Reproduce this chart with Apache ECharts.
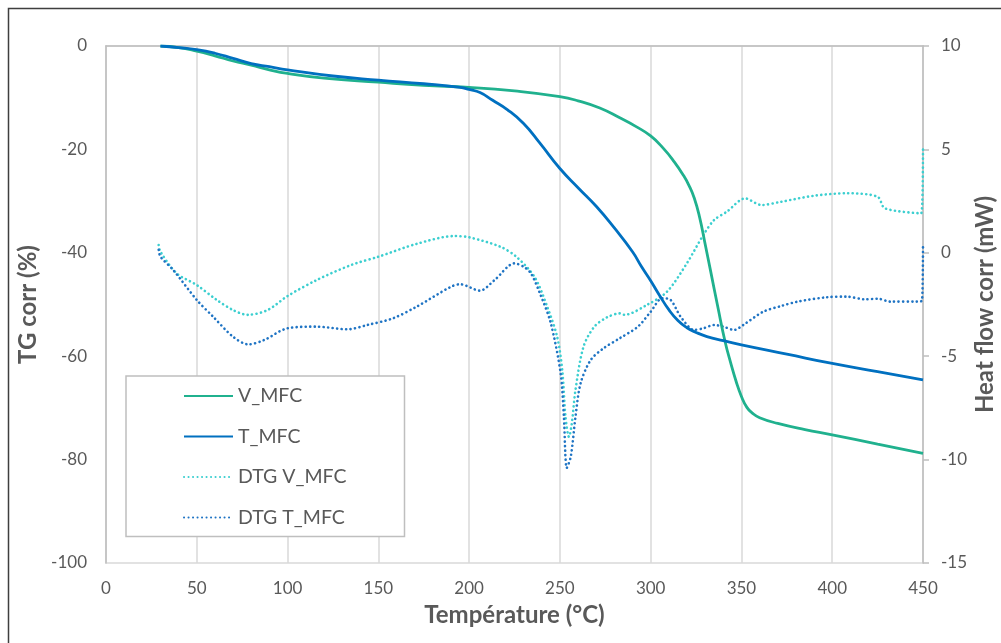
<!DOCTYPE html>
<html><head><meta charset="utf-8">
<script src="https://cdn.jsdelivr.net/npm/echarts@6/dist/echarts.min.js"></script>
<style>html,body{margin:0;padding:0;background:#fff}#c{width:1001px;height:643px}</style>
</head><body><div id="c"></div>
<script>
// ---- data ----
const xTicks = [0, 50, 100, 150, 200, 250, 300, 350, 400, 450];
const leftTicks = [0, -20, -40, -60, -80, -100];
const rightTicks = [10, 5, 0, -5, -10, -15];

const vTemp = [30, 40, 50, 60, 70, 80, 90, 100, 120, 150, 175, 200, 225, 250, 260, 272, 283, 292, 300, 307, 313, 318, 321, 324, 327, 330, 333, 337, 341, 344, 347, 350, 353, 356, 360, 370, 385, 400, 425, 450];
const vTG   = [0, -0.3, -1.0, -1.9, -2.9, -3.7, -4.6, -5.3, -6.2, -7.0, -7.6, -8.0, -8.7, -9.8, -10.6, -12.0, -13.9, -15.6, -17.4, -19.8, -22.4, -25.0, -26.9, -29.4, -33.2, -38.3, -43.5, -50.5, -57.2, -61.2, -64.8, -67.8, -69.9, -71.0, -71.9, -73.0, -74.2, -75.2, -77.0, -78.8];

const tTemp = [30, 40, 50, 60, 70, 80, 90, 100, 125, 150, 175, 195, 200, 206, 213, 221, 230, 239, 250, 260, 270, 280, 290, 295, 300, 305, 310, 315, 320, 325, 331, 340, 350, 375, 400, 425, 450];
const tTG   = [0, -0.3, -0.7, -1.4, -2.4, -3.4, -4.0, -4.6, -5.8, -6.6, -7.3, -8.0, -8.4, -9.0, -10.5, -12.3, -15.0, -18.8, -23.7, -27.4, -31.0, -35.2, -39.8, -42.7, -45.4, -48.3, -51.0, -53.1, -54.5, -55.4, -56.2, -57.0, -57.8, -59.6, -61.4, -63.0, -64.6];

const dvTemp = [29, 30, 39, 50, 61, 70, 78, 89, 100, 116, 135, 150, 171, 192, 200, 217, 226, 236, 243, 248.5, 251.3, 253.1, 255, 256.5, 258.6, 263, 269, 276, 283, 285.5, 298, 309, 320, 329, 335, 342, 352, 361, 372, 390, 408, 425, 429, 449, 450];
const dvDTG  = [0.38, 0.05, -1.0, -1.56, -2.28, -2.77, -3.0, -2.77, -2.09, -1.32, -0.59, -0.19, 0.43, 0.81, 0.75, 0.3, -0.19, -1.16, -2.6, -4.06, -5.67, -7.93, -8.9, -8.3, -6.63, -4.54, -3.57, -3.12, -2.93, -3.0, -2.52, -1.88, -0.5, 0.86, 1.59, 1.99, 2.63, 2.31, 2.47, 2.76, 2.88, 2.71, 2.15, 1.91, 5.0];

const dtTemp = [29, 30, 37, 50, 59, 70, 78.5, 87, 100, 116, 133, 144, 158, 171, 190, 195, 206, 214, 225, 230, 234, 239, 245, 250.4, 252.2, 253.8, 256, 258.6, 261.4, 267, 274, 283, 293, 300, 306.4, 311, 316.5, 324, 329, 335, 340, 346, 351, 362, 372, 381, 397, 408, 418, 425, 432, 447, 449.5, 450];
const dtDTG  = [0.14, -0.19, -0.83, -2.28, -3.09, -4.06, -4.43, -4.22, -3.65, -3.57, -3.7, -3.49, -3.17, -2.61, -1.64, -1.52, -1.83, -1.32, -0.51, -0.67, -0.99, -1.96, -3.41, -5.83, -7.93, -10.4, -9.86, -7.93, -6.31, -5.18, -4.62, -4.13, -3.57, -2.85, -2.2, -2.28, -3.09, -3.73, -3.65, -3.49, -3.57, -3.73, -3.49, -2.85, -2.57, -2.36, -2.15, -2.12, -2.25, -2.22, -2.36, -2.36, -2.3, 0.45];

const seriesNames = ['V_MFC', 'T_MFC', 'DTG V_MFC', 'DTG T_MFC'];
const zip = (a, b) => a.map((x, i) => [x, b[i]]);

const FONT = 'Lato, "Open Sans", sans-serif';
const GREY = '#595959';

const chart = echarts.init(document.getElementById('c'), null, {renderer: 'canvas'});
const dotted = (color) => ({color: color, width: 2.6, type: [0.1, 4.4], cap: 'round'});
chart.setOption({
  animation: false,
  backgroundColor: '#ffffff',
  textStyle: {fontFamily: FONT},
  graphic: [{
    type: 'rect', silent: true, z: 100,
    shape: {x: 8.5, y: 8.5, width: 1200, height: 1000},
    style: {fill: 'none', stroke: '#3f3f3f', lineWidth: 1.5}
  }],
  grid: {left: 106, right: 78, top: 46, bottom: 80, show: true, borderColor: '#d9d9d9', borderWidth: 1.5,
    containLabel: false, outerBoundsMode: 'none'},
  legend: {
    data: seriesNames,
    orient: 'vertical', left: 126, top: 376,
    padding: [10, 58, 9, 57],
    itemWidth: 49, itemHeight: 20, itemGap: 20.5,
    itemStyle: {opacity: 0},
    backgroundColor: '#ffffff',
    borderColor: '#bfbfbf', borderWidth: 1.5,
    textStyle: {fontSize: 19.5, color: GREY, fontFamily: FONT, lineHeight: 20}
  },
  xAxis: {
    type: 'value', min: 0, max: 450, interval: 50,
    name: 'Température (°C)', nameLocation: 'middle', nameGap: 40,
    nameTextStyle: {fontSize: 24, fontWeight: 'bold', color: GREY, fontFamily: FONT},
    axisLine: {show: true, lineStyle: {color: '#bfbfbf', width: 1.5}},
    axisTick: {show: false},
    axisLabel: {color: GREY, fontSize: 17, margin: 17, fontFamily: FONT,
      formatter: (v) => xTicks.includes(v) ? String(v) : ''},
    splitLine: {show: true, lineStyle: {color: '#d9d9d9', width: 1.5}}
  },
  yAxis: [{
    type: 'value', min: -100, max: 0, interval: 20, position: 'left',
    name: 'TG corr (%)', nameLocation: 'middle', nameGap: 62, nameRotate: 90,
    nameTextStyle: {fontSize: 24, fontWeight: 'bold', color: GREY, fontFamily: FONT},
    axisLine: {show: true, lineStyle: {color: '#bfbfbf', width: 1.5}},
    axisTick: {show: false},
    axisLabel: {color: GREY, fontSize: 17, margin: 19, fontFamily: FONT,
      formatter: (v) => leftTicks.includes(v) ? String(v) : ''},
    splitLine: {show: false}
  }, {
    type: 'value', min: -15, max: 10, interval: 5, position: 'right',
    name: 'Heat flow corr (mW)', nameLocation: 'middle', nameGap: 50, nameRotate: 90,
    nameMoveOverlap: false,
    nameTextStyle: {fontSize: 24, fontWeight: 'bold', color: GREY, fontFamily: FONT},
    axisLine: {show: true, lineStyle: {color: '#bfbfbf', width: 1.5}},
    axisTick: {show: true, inside: false, length: 6, lineStyle: {color: '#bfbfbf', width: 1.5}},
    axisLabel: {color: GREY, fontSize: 17, margin: 18, fontFamily: FONT,
      formatter: (v) => rightTicks.includes(v) ? String(v) : ''},
    splitLine: {show: false}
  }],
  series: [
    {name: seriesNames[0], type: 'line', yAxisIndex: 0, data: zip(vTemp, vTG), showSymbol: false, symbol: 'none',
      smooth: 0.5, lineStyle: {color: '#20B18E', width: 2.8}, itemStyle: {color: '#20B18E'}, z: 3},
    {name: seriesNames[1], type: 'line', yAxisIndex: 0, data: zip(tTemp, tTG), showSymbol: false, symbol: 'none',
      smooth: 0.5, lineStyle: {color: '#0070C0', width: 2.8}, itemStyle: {color: '#0070C0'}, z: 4},
    {name: seriesNames[2], type: 'line', yAxisIndex: 1, data: zip(dvTemp, dvDTG), showSymbol: false, symbol: 'none',
      smooth: 0.3, lineStyle: dotted('#3CCFD0'), itemStyle: {color: '#3CCFD0'}, z: 2},
    {name: seriesNames[3], type: 'line', yAxisIndex: 1, data: zip(dtTemp, dtDTG), showSymbol: false, symbol: 'none',
      smooth: 0.3, lineStyle: dotted('#1F74C4'), itemStyle: {color: '#1F74C4'}, z: 2}
  ]
});
</script></body></html>
